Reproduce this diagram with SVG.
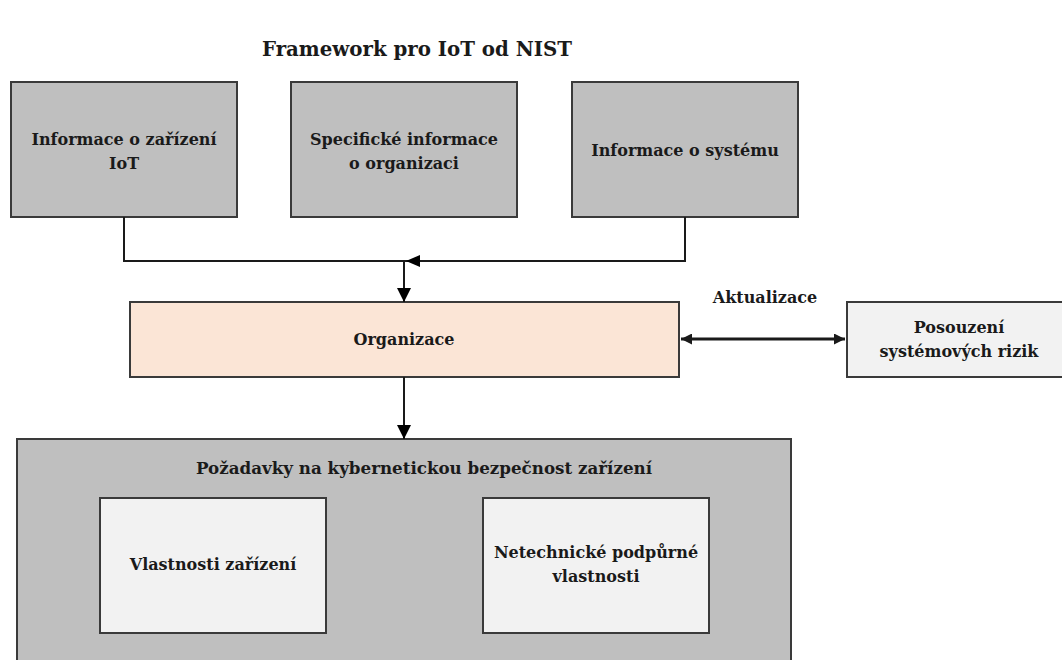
<svg xmlns="http://www.w3.org/2000/svg" width="1062" height="660" viewBox="0 0 1062 660">
<defs>
<style>
text{font-family:"DejaVu Serif","Liberation Serif",serif;font-weight:bold;font-size:16px;fill:#1a1a1a;text-anchor:middle}
.title{font-family:"DejaVu Serif Condensed","DejaVu Serif","Liberation Serif",serif;font-size:21px}
.gray{fill:#bfbfbf;stroke:#3a3a3a;stroke-width:2}
.light{fill:#f2f2f2;stroke:#3a3a3a;stroke-width:2}
.org{fill:#fbe5d6;stroke:#3a3a3a;stroke-width:2}
.conn{fill:none;stroke:#1a1a1a;stroke-width:2}
.bi{fill:none;stroke:#1a1a1a;stroke-width:3}
</style>
<marker id="ah" viewBox="0 0 14 14" refX="14" refY="7" markerWidth="14" markerHeight="14" markerUnits="userSpaceOnUse" orient="auto">
<path d="M0,0 L14,7 L0,14 Z" fill="#000"/>
</marker>
<marker id="ahs" viewBox="0 0 11 11" refX="11" refY="5.5" markerWidth="11" markerHeight="11" markerUnits="userSpaceOnUse" orient="auto-start-reverse">
<path d="M0,0 L11,5.5 L0,11 Z" fill="#1a1a1a"/>
</marker>
</defs>
<rect width="1062" height="660" fill="#fff"/>
<text id="title" class="title" x="417" y="56" textLength="310" lengthAdjust="spacingAndGlyphs">Framework pro IoT od NIST</text>

<g id="bottom-container">
<rect class="gray" x="17" y="439" width="774" height="240"/>
<text x="424" y="474" textLength="456" lengthAdjust="spacingAndGlyphs">Požadavky na kybernetickou bezpečnost zařízení</text>
</g>
<g id="vlastnosti">
<rect class="light" x="100" y="498" width="226" height="135"/>
<text x="213" y="570">Vlastnosti zařízení</text>
</g>
<g id="netechnicke">
<rect class="light" x="483" y="498" width="226" height="135"/>
<text x="596" y="558">Netechnické podpůrné</text>
<text x="596" y="582">vlastnosti</text>
</g>

<g id="info-zarizeni">
<rect class="gray" x="11" y="82" width="226" height="135"/>
<text x="124" y="145">Informace o zařízení</text>
<text x="124" y="169">IoT</text>
</g>
<g id="info-organizace">
<rect class="gray" x="291" y="82" width="226" height="135"/>
<text x="404" y="145">Specifické informace</text>
<text x="404" y="169">o organizaci</text>
</g>
<g id="info-system">
<rect class="gray" x="572" y="82" width="226" height="135"/>
<text x="685" y="156">Informace o systému</text>
</g>
<g id="organizace">
<rect class="org" x="130" y="302" width="549" height="75"/>
<text x="404" y="345">Organizace</text>
</g>
<g id="posouzeni">
<rect class="light" x="847" y="302" width="225" height="75"/>
<text x="959" y="333">Posouzení</text>
<text x="959" y="357">systémových rizik</text>
</g>

<g id="connectors">
<path class="conn" d="M124,217 V261 H685 V217"/>
<path d="M406,261 L420,255 L420,267 Z" fill="#000"/>
<path class="conn" d="M404,261 V302" marker-end="url(#ah)"/>
<path class="conn" d="M404,377 V439" marker-end="url(#ah)"/>
<path class="bi" d="M681,339 H845" marker-start="url(#ahs)" marker-end="url(#ahs)"/>
<text x="765" y="303">Aktualizace</text>
</g>
</svg>
